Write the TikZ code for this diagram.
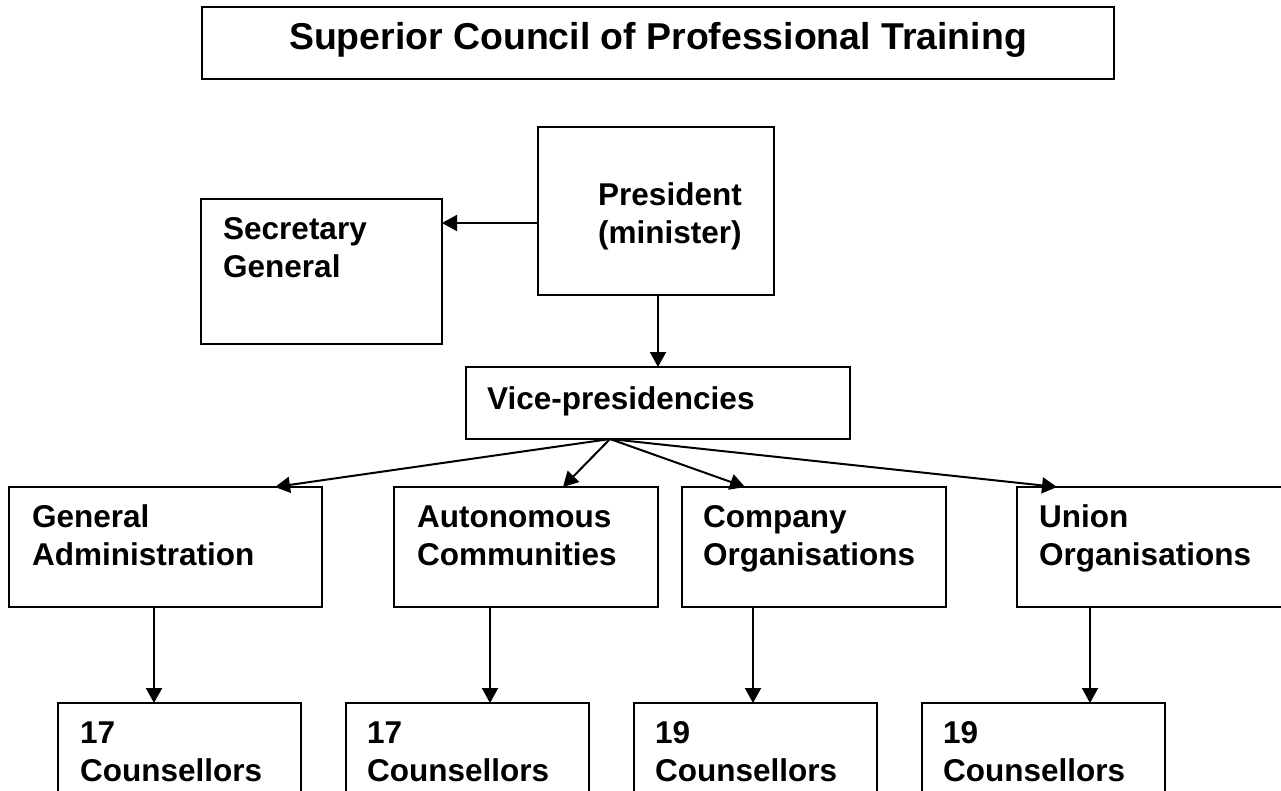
\documentclass[tikz,border=0pt]{standalone}
\usepackage{fontspec}
\setmainfont{Liberation Sans}
\usetikzlibrary{arrows.meta,calc}
% strut that fixes the height of the first line of every box label
\newcommand\firstln{\rule{0pt}{23.6pt}}
\begin{document}
\begin{tikzpicture}[x=1pt,y=-1pt,
  frame/.style={draw, line width=2pt, inner sep=0pt, outer sep=0pt, anchor=north west},
  lbl/.style={anchor=north west, inner sep=0pt, align=left,
              font=\fontsize{31.5}{38}\selectfont\bfseries},
  link/.style={line width=2pt, -{Triangle[length=15pt,width=16pt]}}]
\useasboundingbox (0,0) rectangle (1281,791);
\clip (0,0) rectangle (1281,791);
\fill[white] (0,0) rectangle (1281,791);

% title
\node[frame, minimum width=912pt, minimum height=72pt] (title) at (202,7) {};
\node[anchor=base, inner sep=0pt, font=\fontsize{37.4}{44}\selectfont\bfseries]
  (ttl) at ($(title.north)+(0,43)$) {Superior Council of Professional Training};

% upper part
\node[frame, minimum width=236pt, minimum height=168pt] (pres) at (538,127) {};
\node[lbl] (tpres) at ($(pres.north west)+(60,54.4)$) {\firstln President\\(minister)};

\node[frame, minimum width=241pt, minimum height=145pt] (sec) at (201,199) {};
\node[lbl] (tsec) at ($(sec.north west)+(22,16.4)$) {\firstln Secretary\\General};

\node[frame, minimum width=384pt, minimum height=72pt] (vice) at (466,367) {};
\node[anchor=base west, inner sep=0pt, font=\fontsize{31.5}{38}\selectfont\bfseries]
  (tvice) at ($(vice.north west)+(21,42)$) {Vice-presidencies};

% groups
\node[frame, minimum width=313pt, minimum height=120pt] (ga) at (9,487) {};
\node[lbl] (tga) at ($(ga.north west)+(23,16.4)$) {\firstln General\\Administration};

\node[frame, minimum width=264pt, minimum height=120pt] (aut) at (394,487) {};
\node[lbl] (taut) at ($(aut.north west)+(23,16.4)$) {\firstln Autonomous\\Communities};

\node[frame, minimum width=264pt, minimum height=120pt] (comp) at (682,487) {};
\node[lbl] (tcomp) at ($(comp.north west)+(21,16.4)$) {\firstln Company\\Organisations};

\node[frame, minimum width=300pt, minimum height=120pt] (uni) at (1017,487) {};
\node[lbl] (tuni) at ($(uni.north west)+(22,16.4)$) {\firstln Union\\Organisations};

% counsellors
\node[frame, minimum width=243pt, minimum height=120pt] (c1) at (58,703) {};
\node[lbl] (tc1) at ($(c1.north west)+(22,16.4)$) {\firstln 17\\Counsellors};
\node[frame, minimum width=243pt, minimum height=120pt] (c2) at (346,703) {};
\node[lbl] (tc2) at ($(c2.north west)+(21,16.4)$) {\firstln 17\\Counsellors};
\node[frame, minimum width=243pt, minimum height=120pt] (c3) at (634,703) {};
\node[lbl] (tc3) at ($(c3.north west)+(21,16.4)$) {\firstln 19\\Counsellors};
\node[frame, minimum width=243pt, minimum height=120pt] (c4) at (922,703) {};
\node[lbl] (tc4) at ($(c4.north west)+(21,16.4)$) {\firstln 19\\Counsellors};

% connectors
\draw[link] ($(pres.west)+(0,12)$) coordinate (pw) -- (pw -| sec.east);
\draw[link] (vice.north |- pres.south) -- (vice.north);

\coordinate (fan) at ($(vice.south)+(-48,0)$);
\draw[link] (fan) -- ($(ga.north east)+(-47,0)$);
\draw[link] (fan) -- ($(aut.north)+(37,0)$);
\draw[link] (fan) -- ($(comp.north west)+(63,0)$);
\draw[link] (fan) -- ($(uni.north west)+(40,0)$);

\draw[link] ($(ga.south west)+(145,0)$) coordinate (gd) -- (gd |- c1.north);
\draw[link] ($(aut.south west)+(96,0)$) coordinate (ad) -- (ad |- c2.north);
\draw[link] ($(comp.south west)+(71,0)$) coordinate (cd) -- (cd |- c3.north);
\draw[link] ($(uni.south west)+(73,0)$) coordinate (ud) -- (ud |- c4.north);
\end{tikzpicture}
\end{document}
